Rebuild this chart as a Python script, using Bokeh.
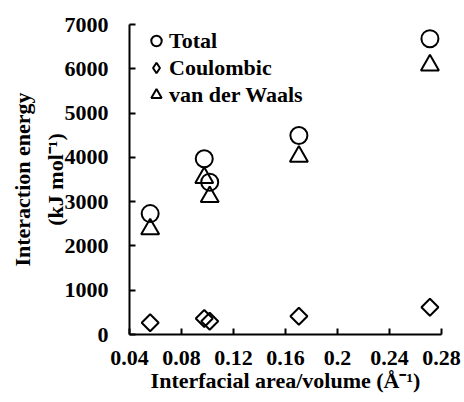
import numpy as np
from bokeh.plotting import figure
from bokeh.models import FixedTicker, Range1d, Legend, LegendItem
from bokeh.embed import file_html
from bokeh.resources import INLINE

# data
x_vals = [0.0559, 0.0975, 0.1017, 0.1703, 0.2711]
total = [2730, 3970, 3440, 4495, 6680]
coulombic = [265, 360, 300, 413, 615]
vdw = [2380, 3540, 3110, 4020, 6080]

x_ticks = [0.04, 0.08, 0.12, 0.16, 0.2, 0.24, 0.28]
x_tick_labels = ["0.04", "0.08", "0.12", "0.16", "0.2", "0.24", "0.28"]
y_ticks = [0, 1000, 2000, 3000, 4000, 5000, 6000, 7000]
y_tick_labels = ["0", "1000", "2000", "3000", "4000", "5000", "6000", "7000"]

FONT = "Liberation Serif"

p = figure(width=464, height=402, output_backend="svg", toolbar_location=None,
           x_range=Range1d(0.04, 0.28), y_range=Range1d(0, 7000),
           min_border_left=129, min_border_right=23, min_border_top=24, min_border_bottom=68)
p.outline_line_color = None
p.grid.visible = False
p.background_fill_color = "white"
p.border_fill_color = "white"

r_total = p.scatter(x_vals, total, marker="circle", size=17, fill_color=None,
                    line_color="black", line_width=2)
r_coul = p.scatter(x_vals, coulombic, marker="square", angle=np.pi / 4, size=12,
                   fill_color=None, line_color="black", line_width=2)
r_vdw = p.scatter(x_vals, vdw, marker="triangle", size=18, fill_color=None,
                  line_color="black", line_width=2)
# legend-only glyph (diamond shape for the legend key), not drawn in the plot
r_coul_key = p.scatter([np.nan], [np.nan], marker="diamond", size=12, fill_color=None,
                       line_color="black", line_width=2)

for ax in (p.xaxis[0], p.yaxis[0]):
    ax.axis_line_width = 2
    ax.axis_line_color = "black"
    ax.major_tick_line_width = 2
    ax.major_tick_line_color = "black"
    ax.major_tick_in = 6
    ax.major_tick_out = 0
    ax.minor_tick_line_color = None
    ax.major_label_text_font = FONT
    ax.major_label_text_font_style = "bold"
    ax.major_label_text_font_size = "22px"
    ax.major_label_text_color = "black"
    ax.axis_label_text_font = FONT
    ax.axis_label_text_font_style = "bold"
    ax.axis_label_text_font_size = "22px"
    ax.axis_label_text_color = "black"

p.xaxis.ticker = FixedTicker(ticks=x_ticks)
p.xaxis.major_label_overrides = dict(zip(x_ticks, x_tick_labels))
p.yaxis.ticker = FixedTicker(ticks=y_ticks)
p.yaxis.major_label_overrides = dict(zip(y_ticks, y_tick_labels))

p.xaxis.major_label_standoff = 16
p.xaxis.axis_label_standoff = 0
p.yaxis.major_label_standoff = 21
p.yaxis.axis_label_standoff = -6
p.yaxis.axis_label_text_line_height = 1.3

p.xaxis.axis_label = "Interfacial area/volume (Å\u207b\u00b9)"
p.yaxis.axis_label = "Interaction energy\n(kJ mol\u207b\u00b9)"

legend = Legend(items=[LegendItem(label="Total", renderers=[r_total]),
                       LegendItem(label="Coulombic", renderers=[r_coul_key]),
                       LegendItem(label="van der Waals", renderers=[r_vdw])],
                location=(14, 226))
legend.margin = 0
legend.padding = 0
legend.spacing = 0
legend.glyph_width = 26
legend.glyph_height = 27
legend.label_height = 27
legend.label_standoff = 0
legend.border_line_color = None
legend.background_fill_alpha = 0
legend.label_text_font = FONT
legend.label_text_font_style = "bold"
legend.label_text_font_size = "22px"
legend.label_text_color = "black"
p.add_layout(legend)

open("out.html", "w").write(file_html(p, INLINE))
